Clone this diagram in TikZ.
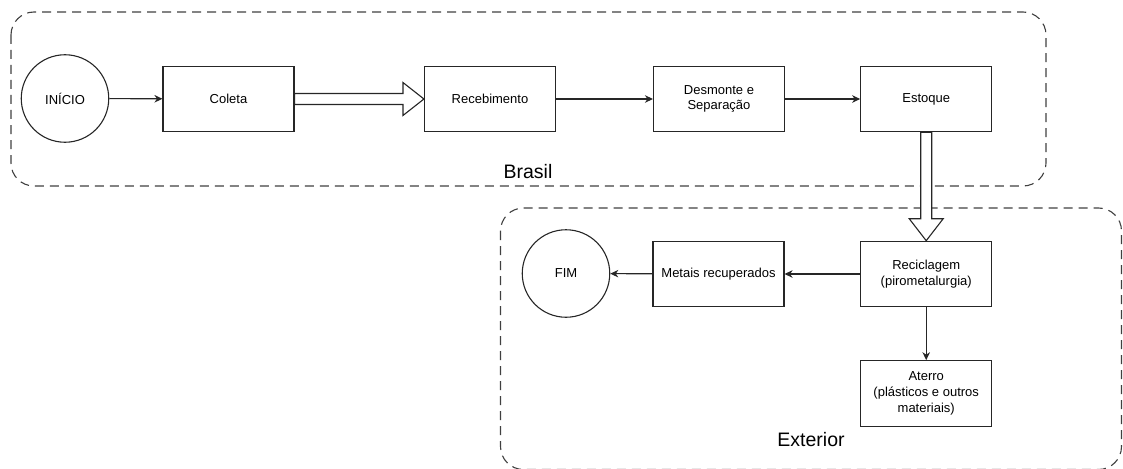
\documentclass[tikz,border=0pt]{standalone}
\usepackage{fontspec}
\setmainfont{Liberation Sans}
\usetikzlibrary{arrows.meta,calc}

\begin{document}
\begin{tikzpicture}[x=1pt,y=-1pt,line width=1.1pt,
    etapa/.style={draw=black!85,minimum width=131pt,minimum height=65.5pt,inner sep=2pt,
      align=center,font=\fontsize{13}{15.8}\selectfont},
    terminal/.style={draw=black!85,circle,minimum size=87.5pt,inner sep=0pt,
      font=\fontsize{13}{15.8}\selectfont},
    regiao/.style={draw=black!75,dash pattern=on 9pt off 6pt,rounded corners=23pt},
    rotulo/.style={font=\fontsize{19.5}{23}\selectfont},
    seta/.style={draw=black!85,-{Stealth[length=8pt,width=7.5pt,inset=2.5pt]}},
    oca/.style={draw=black!85,fill=white,line join=miter}]
  \useasboundingbox (0,0) rectangle (1123,468);
  % regioes
  \draw[regiao] (11,12) rectangle (1046,186);
  \draw[regiao] (500.5,208) rectangle (1121.5,469.5);
  \node[rotulo] (brasil) at (528,172) {Brasil};
  \node[rotulo] (exterior) at (811,440) {Exterior};
  % etapas
  \node[terminal] (inicio) at (65,98.5) {INÍCIO};
  \node[etapa] (coleta) at (228.5,99) {Coleta};
  \node[etapa] (receb) at (490,99) {Recebimento};
  \node[etapa] (desm) at (719,99) {Desmonte e\\Separação};
  \node[etapa] (estoque) at (926.2,99) {Estoque};
  \node[etapa] (recic) at (926.2,274) {Reciclagem\\(pirometalurgia)};
  \node[etapa] (metais) at (718.5,274) {Metais recuperados};
  \node[etapa] (aterro) at (926.2,393.5) {Aterro\\(plásticos e outros\\materiais)};
  \node[terminal] (fim) at (566,273.5) {FIM};
  % ligacoes
  \draw[seta] (inicio) -- (coleta);
  \draw[oca] ($(coleta.east)+(0,-5.5)$) -- ($(receb.west)+(-21,-5.5)$)
    -- ($(receb.west)+(-21,-16.5)$) -- (receb.west) -- ($(receb.west)+(-21,16.5)$)
    -- ($(receb.west)+(-21,5.5)$) -- ($(coleta.east)+(0,5.5)$) -- cycle;
  \draw[seta] (receb) -- (desm);
  \draw[seta] (desm) -- (estoque);
  \draw[oca] ($(estoque.south)+(-5.5,0)$) -- ($(recic.north)+(-5.5,-22)$)
    -- ($(recic.north)+(-17,-22)$) -- (recic.north) -- ($(recic.north)+(17,-22)$)
    -- ($(recic.north)+(5.5,-22)$) -- ($(estoque.south)+(5.5,0)$) -- cycle;
  \draw[seta] (recic) -- (metais);
  \draw[seta] (metais) -- (fim);
  \draw[seta] (recic) -- (aterro);
\end{tikzpicture}
\end{document}
